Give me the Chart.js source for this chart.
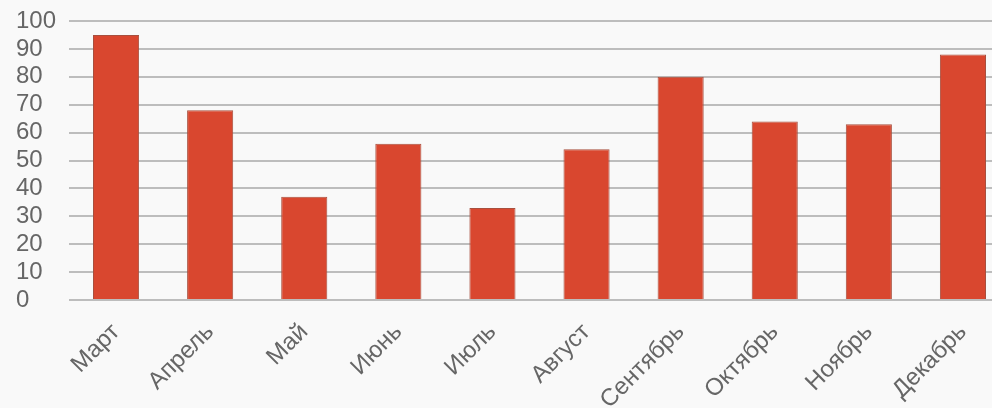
<!DOCTYPE html>
<html>
<head>
<meta charset="utf-8">
<script src="https://cdn.jsdelivr.net/npm/chart.js@4"></script>
<style>
	html, body { margin: 0; padding: 0; background: #f9f9f9; overflow: hidden; }
	#wrap { width: 1010px; height: 408px; position: relative; }
</style>
</head>
<body>
<div id="wrap"><canvas id="c"></canvas></div>
<script>
const months = ["Март", "Апрель", "Май", "Июнь", "Июль", "Август", "Сентябрь", "Октябрь", "Ноябрь", "Декабрь"];
const values = [95, 68, 37, 56, 33, 54, 80, 64, 63, 88];
const yTicks = [0, 10, 20, 30, 40, 50, 60, 70, 80, 90, 100];

const font = { family: "'Liberation Sans', Arial, sans-serif", size: 24 };

new Chart(document.getElementById("c"), {
	type: "bar",
	data: {
		labels: months,
		datasets: [{
			data: values,
			backgroundColor: "#d9472f",
			borderColor: "#a8503f",
			borderWidth: 1,
			barPercentage: 0.49,
			categoryPercentage: 1
		}]
	},
	options: {
		responsive: true,
		maintainAspectRatio: false,
		animation: false,
		layout: { padding: { left: 16, top: 0, right: 0, bottom: 0 } },
		plugins: {
			legend: { display: false },
			tooltip: { enabled: false }
		},
		scales: {
			x: {
				afterFit: s => { s.paddingLeft = 0; s.paddingRight = 0; s.height = 108; },
				grid: { display: false, drawTicks: false },
				border: { display: false },
				ticks: {
					color: "#666",
					font: font,
					minRotation: 45,
					maxRotation: 45,
					padding: 18
				}
			},
			y: {
				min: 0,
				max: 100,
				afterBuildTicks: axis => { axis.ticks = yTicks.map(v => ({ value: v })); },
				afterFit: s => { s.paddingTop = 21; s.width = 53; },
				grid: { color: "#bdbdbd", lineWidth: 2, drawTicks: false },
				border: { display: false },
				ticks: {
					color: "#666",
					font: font,
					autoSkip: false,
					crossAlign: "far",
					padding: 13
				}
			}
		}
	}
});
</script>
</body>
</html>
